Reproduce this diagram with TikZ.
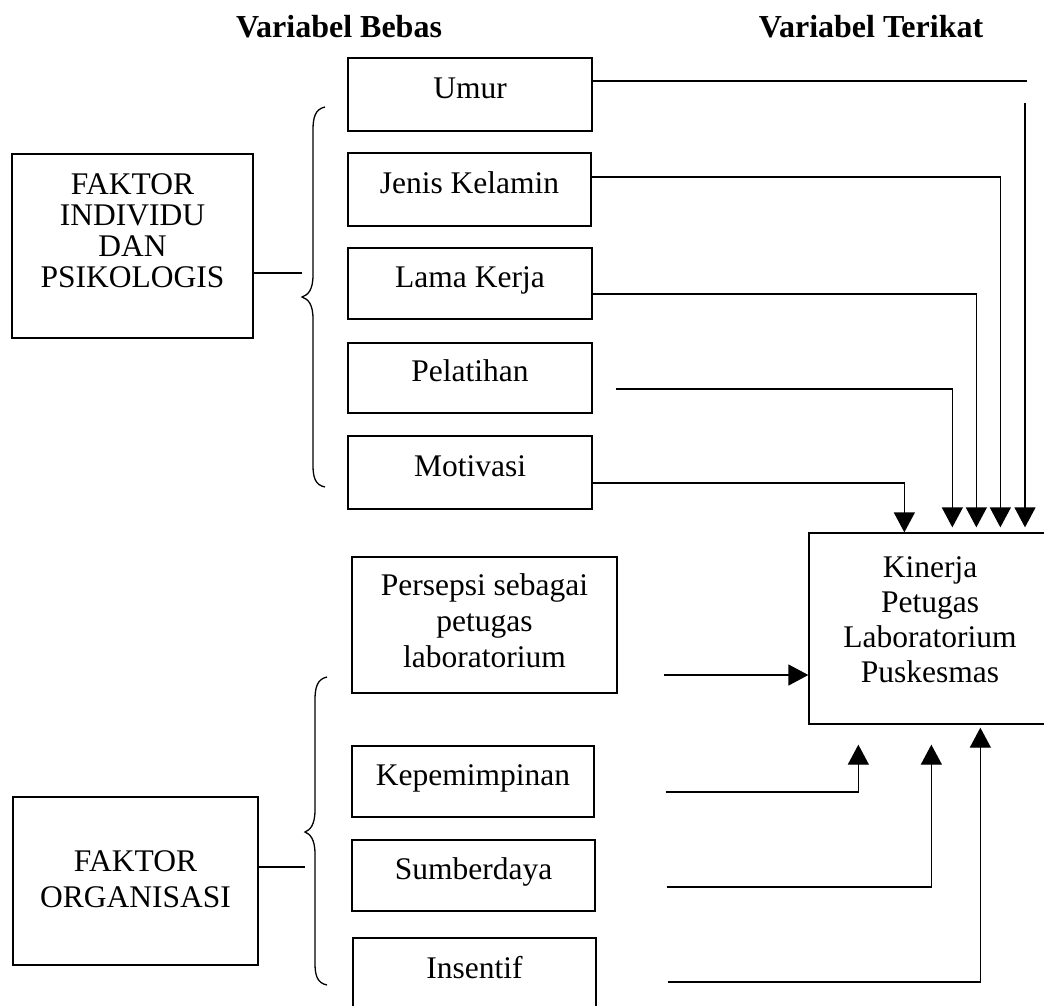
\documentclass[tikz,border=0pt]{standalone}
\usepackage{fontspec}
\setmainfont{Liberation Serif}
\usetikzlibrary{arrows.meta}
\begin{document}
\begin{tikzpicture}[x=1pt,y=-1pt,
  box/.style={draw, line width=1.3pt, rectangle, inner sep=0pt, font=\fontsize{31.5}{36}\selectfont},
  one/.style={box, text height=22pt, text depth=15pt},
  txt/.style={inner sep=0pt, align=center, font=\fontsize{31.5}{36}\selectfont},
  ttl/.style={inner sep=0pt, anchor=base, font=\fontsize{32}{36}\selectfont\bfseries},
  ln/.style={line width=1.3pt},
  arr/.style={line width=1.3pt, -{Triangle[length=20pt,width=21pt]}},
  brc/.style={line width=1.3pt}]
\clip (0,0) rectangle (1044,1005);
\fill[white] (0,0) rectangle (1044,1005);

% titles
\node[ttl] (tb) at (339,37) {Variabel Bebas};
\node[ttl] (tt) at (871,37) {Variabel Terikat};

% left group boxes
\node[box, minimum width=241pt, minimum height=184pt] (fk1) at (132.5,246) {};
\node[txt, font=\fontsize{31.5}{31}\selectfont] (fk1t) at (132.5,231) {FAKTOR\\INDIVIDU\\DAN\\PSIKOLOGIS};
\node[box, minimum width=245pt, minimum height=168pt] (fk2) at (135.5,881) {};
\node[txt] (fk2t) at (135.5,879.5) {FAKTOR\\ORGANISASI};

% variable boxes
\node[one, minimum width=244pt, minimum height=73pt] (umur) at (470,94.5) {Umur};
\node[one, minimum width=243pt, minimum height=73pt] (jk) at (469.5,189.5) {Jenis Kelamin};
\node[one, minimum width=244pt, minimum height=71pt] (lama) at (470,283.5) {Lama Kerja};
\node[one, minimum width=244pt, minimum height=70pt] (pel) at (470,378) {Pelatihan};
\node[one, minimum width=244pt, minimum height=73pt] (mot) at (470,472.5) {Motivasi};
\node[box, minimum width=265pt, minimum height=136pt] (pers) at (484.5,625) {};
\node[txt] (perst) at (484.5,621) {Persepsi sebagai\\petugas\\laboratorium};
\node[one, minimum width=242pt, minimum height=71pt] (kep) at (473,781.5) {Kepemimpinan};
\node[one, minimum width=243pt, minimum height=71pt] (sum) at (473.5,875.5) {Sumberdaya};
\node[one, minimum width=243pt, minimum height=73pt] (ins) at (474.5,974.5) {Insentif};

% dependent box
\node[box, minimum width=251pt, minimum height=191pt] (kin) at (934.5,628.5) {};
\node[txt, font=\fontsize{31.5}{35}\selectfont] (kint) at (930,620) {Kinerja\\Petugas\\Laboratorium\\Puskesmas};

% braces
\draw[brc] (325,107) .. controls (315,109) and (313,118) .. (313,130) -- (313,275)
  .. controls (313,290) and (308,295) .. (302,297)
  .. controls (308,299) and (313,304) .. (313,319) -- (313,465)
  .. controls (313,477) and (315,485) .. (325,487);
\draw[brc] (327,677) .. controls (317,679) and (315,688) .. (315,700) -- (315,810)
  .. controls (315,825) and (310,830) .. (305,832)
  .. controls (310,834) and (315,839) .. (315,854) -- (315,963)
  .. controls (315,975) and (317,983) .. (327,985);
\coordinate (b1) at (302,273);
\coordinate (b2) at (305,867);
\draw[ln] ([yshift=-27pt]fk1.east) -- (b1);
\draw[ln] ([yshift=14pt]fk2.east) -- (b2);

% upper arrows
\coordinate (u1) at (1027,81);
\coordinate (u2) at (1025,103);
\draw[ln] ([yshift=13.5pt]umur.east) -- (u1);
\draw[arr, shorten >=5pt] (u2) -- (u2 |- kin.north);
\draw[arr, shorten >=5pt] ([yshift=12.5pt]jk.east) -| ([xshift=192pt]kin.north west);
\draw[arr, shorten >=5pt] ([yshift=-10.5pt]lama.east) -| ([xshift=168pt]kin.north west);
\draw[arr, shorten >=5pt] ([shift={(23pt,-11pt)}]pel.east) -| ([xshift=144pt]kin.north west);
\draw[arr] ([yshift=-10.5pt]mot.east) -| ([xshift=96pt]kin.north west);

% lower arrows
\coordinate (p1) at ([shift={(46pt,-50pt)}]pers.east);
\draw[arr] (p1) -- (p1 -| kin.west);
\draw[arr, shorten >=20pt] ([shift={(71pt,-10.5pt)}]kep.east) -| ([xshift=50pt]kin.south west);
\draw[arr, shorten >=20pt] ([shift={(71pt,-11.5pt)}]sum.east) -| ([xshift=123pt]kin.south west);
\draw[arr, shorten >=3pt] ([shift={(71pt,-7.5pt)}]ins.east) -| ([xshift=172pt]kin.south west);
\end{tikzpicture}
\end{document}
